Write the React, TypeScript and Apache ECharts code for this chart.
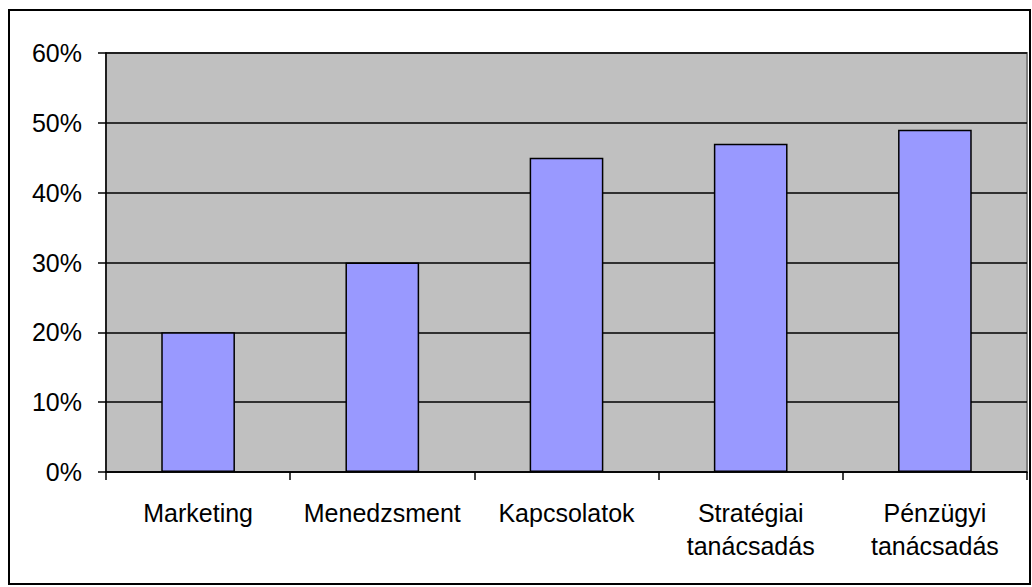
import React, { useEffect, useRef } from "react";
import * as echarts from "echarts";

const categories = ["Marketing", "Menedzsment", "Kapcsolatok", "Stratégiai\ntanácsadás", "Pénzügyi\ntanácsadás"];
const values = [20, 30, 45, 47, 49];
const yTicks = { min: 0, max: 60, interval: 10 };

export default function App() {
  const ref = useRef<HTMLDivElement>(null);
  useEffect(() => {
    const chart = echarts.init(ref.current!, null, { renderer: "svg" });
    chart.setOption({
      animation: false,
      backgroundColor: "#ffffff",
      textStyle: { fontFamily: "Liberation Sans, Arial, sans-serif" },
      graphic: [
        {
          type: "rect",
          shape: { x: 9, y: 10, width: 1021, height: 574 },
          style: { fill: "none", stroke: "#000", lineWidth: 2 },
          silent: true,
          z: 100,
        },
      ],
      grid: {
        left: 106,
        top: 53,
        right: 5,
        bottom: 115,
        show: true,
        backgroundColor: "#C0C0C0",
        borderColor: "#808080",
        borderWidth: 2,
        containLabel: false,
      },
      xAxis: {
        type: "category",
        data: categories,
        axisLine: { show: true, lineStyle: { color: "#000", width: 1.5 } },
        axisTick: { show: true, length: 8, lineStyle: { color: "#000", width: 1.5 }, alignWithLabel: false },
        axisLabel: {
          color: "#000",
          fontSize: 25,
          lineHeight: 33,
          margin: 24,
          interval: 0,
          fontFamily: "Liberation Sans, Arial, sans-serif",
        },
      },
      yAxis: {
        type: "value",
        min: yTicks.min,
        max: yTicks.max,
        interval: yTicks.interval,
        axisLine: { show: true, lineStyle: { color: "#000", width: 1.5 } },
        axisTick: { show: true, length: 8, inside: false, lineStyle: { color: "#000", width: 1.5 } },
        splitLine: { show: true, lineStyle: { color: "#000", width: 1.5 } },
        axisLabel: {
          color: "#000",
          fontSize: 25,
          margin: 24,
          formatter: (v: number) => v + "%",
          fontFamily: "Liberation Sans, Arial, sans-serif",
        },
      },
      series: [
        {
          type: "bar",
          data: values,
          barWidth: "40%",
          itemStyle: { color: "#9999FF", borderColor: "#000", borderWidth: 1.5 },
        },
      ],
    });
    return () => chart.dispose();
  }, []);
  return (
    <div
      ref={ref}
      style={{ position: "absolute", left: 0, top: 0, width: 1032, height: 587 }}
    />
  );
}
